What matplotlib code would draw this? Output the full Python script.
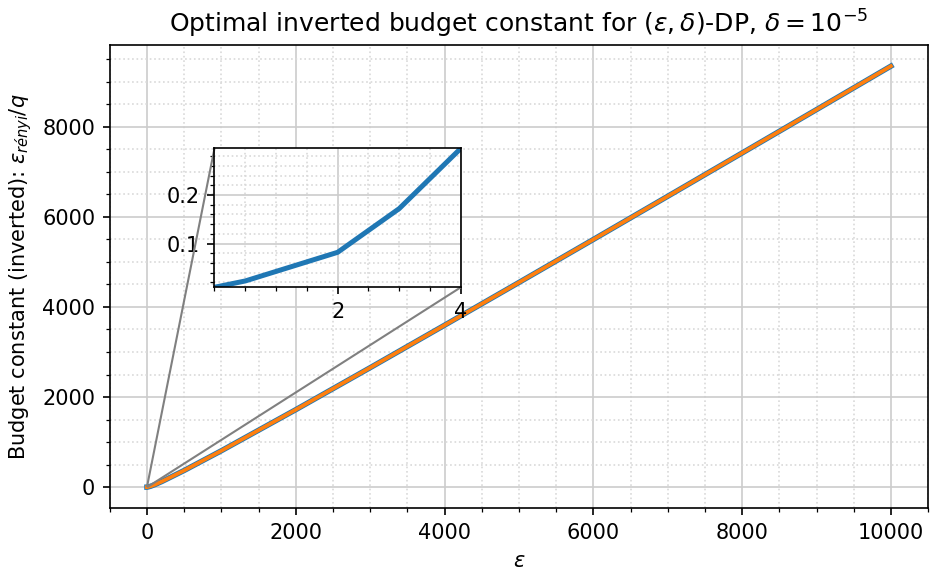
import matplotlib
matplotlib.use("Agg")
import matplotlib.pyplot as plt
from matplotlib.ticker import AutoMinorLocator
from mpl_toolkits.axes_grid1.inset_locator import mark_inset

# epsilon values and inverted budget constant
eps = [0, 0.5, 2, 3, 4, 10, 50, 100, 200, 500, 1000, 2000, 3000, 4000,
       5000, 6000, 7000, 8000, 9000, 10000]
budget = [0.01, 0.023, 0.082, 0.172, 0.296, 1.55, 19.8, 51.4, 124.4, 369.6,
          807.4, 1718.9, 2651, 3594, 4543, 5497, 6456, 7417, 8380, 9345]
# small-epsilon part shown in the inset
n_zoom = 5

plt.rcParams["font.size"] = 10

fig = plt.figure(figsize=(6.2, 3.807), dpi=150)
ax = fig.add_axes([0.118, 0.110, 0.880, 0.811])

ax.plot(eps, budget, color="#1f77b4", lw=2.6)
ax.plot(eps, budget, color="#ff7f0e", lw=1.8)

ax.xaxis.set_minor_locator(AutoMinorLocator())
ax.yaxis.set_minor_locator(AutoMinorLocator())
ax.grid(which="major", color="0.8", lw=0.8)
ax.grid(which="minor", color="0.85", lw=0.8, ls=":")
ax.set_axisbelow(True)

ax.set_title(r"Optimal inverted budget constant for $(\varepsilon, \delta)$-DP, $\delta = 10^{-5}$")
ax.set_xlabel(r"$\varepsilon$")
ax.set_ylabel(r"Budget constant (inverted): $\varepsilon_{rényi}/q$")

axins = ax.inset_axes([0.128, 0.477, 0.301, 0.300])
axins.plot(eps[:n_zoom], budget[:n_zoom], color="#1f77b4", lw=2.4)
axins.set_xlim(eps[0], eps[n_zoom - 1])
axins.set_ylim(budget[0], budget[n_zoom - 1])
axins.set_xticks([2, 4])
axins.set_yticks([0.1, 0.2])
axins.xaxis.set_minor_locator(AutoMinorLocator())
axins.yaxis.set_minor_locator(AutoMinorLocator())
axins.grid(which="major", color="0.8", lw=0.8)
axins.grid(which="minor", color="0.85", lw=0.8, ls=":")
axins.set_axisbelow(True)

mark_inset(ax, axins, loc1=2, loc2=4, fc="none", ec="0.5", lw=1.0)

fig.savefig("out.png", dpi=150)
